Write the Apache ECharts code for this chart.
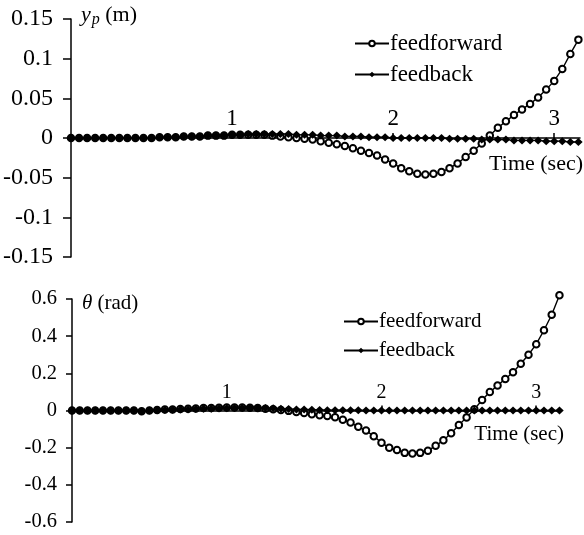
<!DOCTYPE html>
<html>
<head>
<meta charset="utf-8">
<script src="https://cdn.jsdelivr.net/npm/echarts@6/dist/echarts.min.js"></script>
<style>html,body{margin:0;padding:0;background:#fff;}#chart{width:584px;height:535px;}</style>
</head>
<body>
<div id="chart"></div>
<script>
const time = [0,0.05,0.1,0.15,0.2,0.25,0.3,0.35,0.4,0.45,0.5,0.55,0.6,0.65,0.7,0.75,0.8,0.85,0.9,0.95,
  1,1.05,1.1,1.15,1.2,1.25,1.3,1.35,1.4,1.45,1.5,1.55,1.6,1.65,1.7,1.75,1.8,1.85,1.9,1.95,
  2,2.05,2.1,2.15,2.2,2.25,2.3,2.35,2.4,2.45,2.5,2.55,2.6,2.65,2.7,2.75,2.8,2.85,2.9,2.95,
  3,3.05,3.1,3.15];
const xTicks = [1, 2, 3];
const ypTicks = ['0.15','0.1','0.05','0','-0.05','-0.1','-0.15'];
const thTicks = ['0.6','0.4','0.2','0','-0.2','-0.4','-0.6'];
const seriesNames = ['feedforward', 'feedback'];

const ypFeedforward = [0,0,0,0,0,0,0,0,0,0,0,
  0.001,0.001,0.001,0.002,0.002,0.002,0.003,0.003,0.003,0.004,
  0.004,0.004,0.004,0.004,0.003,0.002,0.001,0.000,-0.001,-0.002,
  -0.004,-0.006,-0.008,-0.010,-0.013,-0.016,-0.019,-0.022,-0.027,-0.032,
  -0.038,-0.042,-0.045,-0.046,-0.045,-0.043,-0.038,-0.032,-0.024,-0.016,
  -0.007,0.003,0.013,0.021,0.029,0.036,0.043,0.051,0.061,0.072,
  0.087,0.106,0.124];
const ypFeedback = [0,0,0,0,0,0,0,0,0,0,0,
  0.001,0.001,0.001,0.002,0.002,0.002,0.003,0.003,0.003,0.004,
  0.004,0.005,0.005,0.005,0.005,0.005,0.005,0.004,0.004,0.004,
  0.003,0.003,0.003,0.002,0.002,0.002,0.001,0.001,0.001,0,
  0,0,0,0,0,0,-0.001,-0.001,-0.001,-0.001,
  -0.002,-0.002,-0.002,-0.002,-0.003,-0.003,-0.003,-0.003,-0.004,-0.004,
  -0.004,-0.005,-0.005];
const thFeedforward = [0,0,0,0,0,0,0,0,0,-0.004,0,
  0.003,0.005,0.006,0.008,0.010,0.011,0.013,0.014,0.015,0.016,
  0.016,0.016,0.015,0.013,0.010,0.007,0.003,-0.002,-0.008,-0.014,
  -0.020,-0.025,-0.030,-0.036,-0.050,-0.065,-0.088,-0.108,-0.138,-0.174,
  -0.200,-0.213,-0.228,-0.232,-0.228,-0.216,-0.190,-0.160,-0.122,-0.078,
  -0.037,0.007,0.056,0.099,0.135,0.170,0.206,0.252,0.300,0.357,
  0.432,0.515,0.62];
const thFeedback = [0,0,0,0,0,0,0,0,0,-0.004,0,
  0.002,0.003,0.004,0.005,0.006,0.008,0.009,0.010,0.011,0.012,
  0.013,0.013,0.014,0.014,0.013,0.012,0.010,0.008,0.006,0.005,
  0.004,0.003,0.002,0.002,0.001,0.001,0.001,0,0,0,
  0,0,0,0,0,0,0,0,0,0,
  0,0,0,0,0,0,0,0,0,0,
  0,0,0];

const FONT = "'Liberation Serif', 'Times New Roman', serif";
const pair = arr => time.map((t, i) => [t, arr[i]]);

function xAxisCfg(gridIndex, offset, namePad, fs, nameFs) {
  return {
    type: 'value', gridIndex, min: 0, max: 3.16, position: 'bottom', offset,
    axisLine: { onZero: false, lineStyle: { color: '#000', width: 1.5 } },
    axisTick: { inside: true, length: 5, customValues: xTicks, lineStyle: { color: '#000', width: 1.5 } },
    axisLabel: { inside: true, customValues: xTicks, margin: 8, color: '#000', fontSize: fs, fontFamily: FONT },
    splitLine: { show: false },
    name: 'Time (sec)', nameLocation: 'end', nameGap: 0,
    nameTextStyle: { align: 'right', verticalAlign: 'top', padding: [namePad, -3, 0, 0], color: '#000', fontSize: nameFs, fontFamily: FONT }
  };
}
function yAxisCfg(gridIndex, min, max, interval, labels, name, rich, gap, fs, margin, tickLen) {
  return {
    type: 'value', gridIndex, min, max, interval,
    axisLine: { onZero: false, lineStyle: { color: '#000', width: 1.5 } },
    axisTick: { length: tickLen, lineStyle: { color: '#000', width: 1.5 } },
    axisLabel: {
      margin, color: '#000', fontSize: fs, fontFamily: FONT,
      formatter: v => { const idx = Math.round((max - v) / interval); return labels[idx]; }
    },
    splitLine: { show: false },
    name, nameLocation: 'end', nameGap: gap,
    nameTextStyle: { align: 'left', verticalAlign: 'middle', padding: [0, 0, 0, 10], color: '#000', fontSize: 21, fontFamily: FONT, rich }
  };
}
const richTop = {
  it: { fontStyle: 'italic', fontSize: 22, fontFamily: FONT, color: '#000' },
  sub: { fontStyle: 'italic', fontSize: 16, fontFamily: FONT, color: '#000', padding: [10, 0, 0, 1] },
  n: { fontSize: 22, fontFamily: FONT, color: '#000' }
};
const richBottom = {
  it: { fontStyle: 'italic', fontSize: 21, fontFamily: FONT, color: '#000' },
  n: { fontSize: 21, fontFamily: FONT, color: '#000' }
};

const ffStyle = {
  type: 'line', symbol: 'emptyCircle', symbolSize: 6.5, clip: false,
  lineStyle: { color: '#000', width: 1.4 },
  itemStyle: { color: '#000', borderWidth: 1.3 }
};
const fbStyle = {
  type: 'line', symbol: 'diamond', symbolSize: [8.5, 8], clip: false,
  lineStyle: { color: '#000', width: 1.4 },
  itemStyle: { color: '#000' }
};

const chart = echarts.init(document.getElementById('chart'), null, { renderer: 'canvas' });
chart.setOption({
  animation: false,
  backgroundColor: '#fff',
  grid: [
    { left: 71, top: 19, width: 509, height: 238 },
    { left: 72, top: 299, width: 489, height: 223 }
  ],
  legend: [
    { data: seriesNames, orient: 'vertical', left: 349, top: 27, itemWidth: 34, itemHeight: 7, itemGap: 8,
      textStyle: { fontSize: 23, fontFamily: FONT, color: '#000', padding: [0, 0, 0, -4] } },
    { data: seriesNames, orient: 'vertical', left: 338, top: 306, itemWidth: 34, itemHeight: 7, itemGap: 8,
      textStyle: { fontSize: 21, fontFamily: FONT, color: '#000', padding: [0, 0, 0, -4] } }
  ],
  xAxis: [xAxisCfg(0, -119, 15, 23, 22), xAxisCfg(1, -111.5, 13, 20, 21)],
  yAxis: [
    yAxisCfg(0, -0.15, 0.15, 0.05, ypTicks, '{it|y}{sub|p}{n| (m)}', richTop, 4, 24, 18, 8),
    yAxisCfg(1, -0.6, 0.6, 0.2, thTicks, '{it|θ}{n| (rad)}', richBottom, -4, 20.5, 15, 6)
  ],
  series: [
    Object.assign({ name: seriesNames[0], xAxisIndex: 0, yAxisIndex: 0, data: pair(ypFeedforward) }, ffStyle),
    Object.assign({ name: seriesNames[1], xAxisIndex: 0, yAxisIndex: 0, data: pair(ypFeedback) }, fbStyle),
    Object.assign({ name: seriesNames[0], xAxisIndex: 1, yAxisIndex: 1, data: pair(thFeedforward) }, ffStyle),
    Object.assign({ name: seriesNames[1], xAxisIndex: 1, yAxisIndex: 1, data: pair(thFeedback) }, fbStyle)
  ]
});
</script>
</body>
</html>
